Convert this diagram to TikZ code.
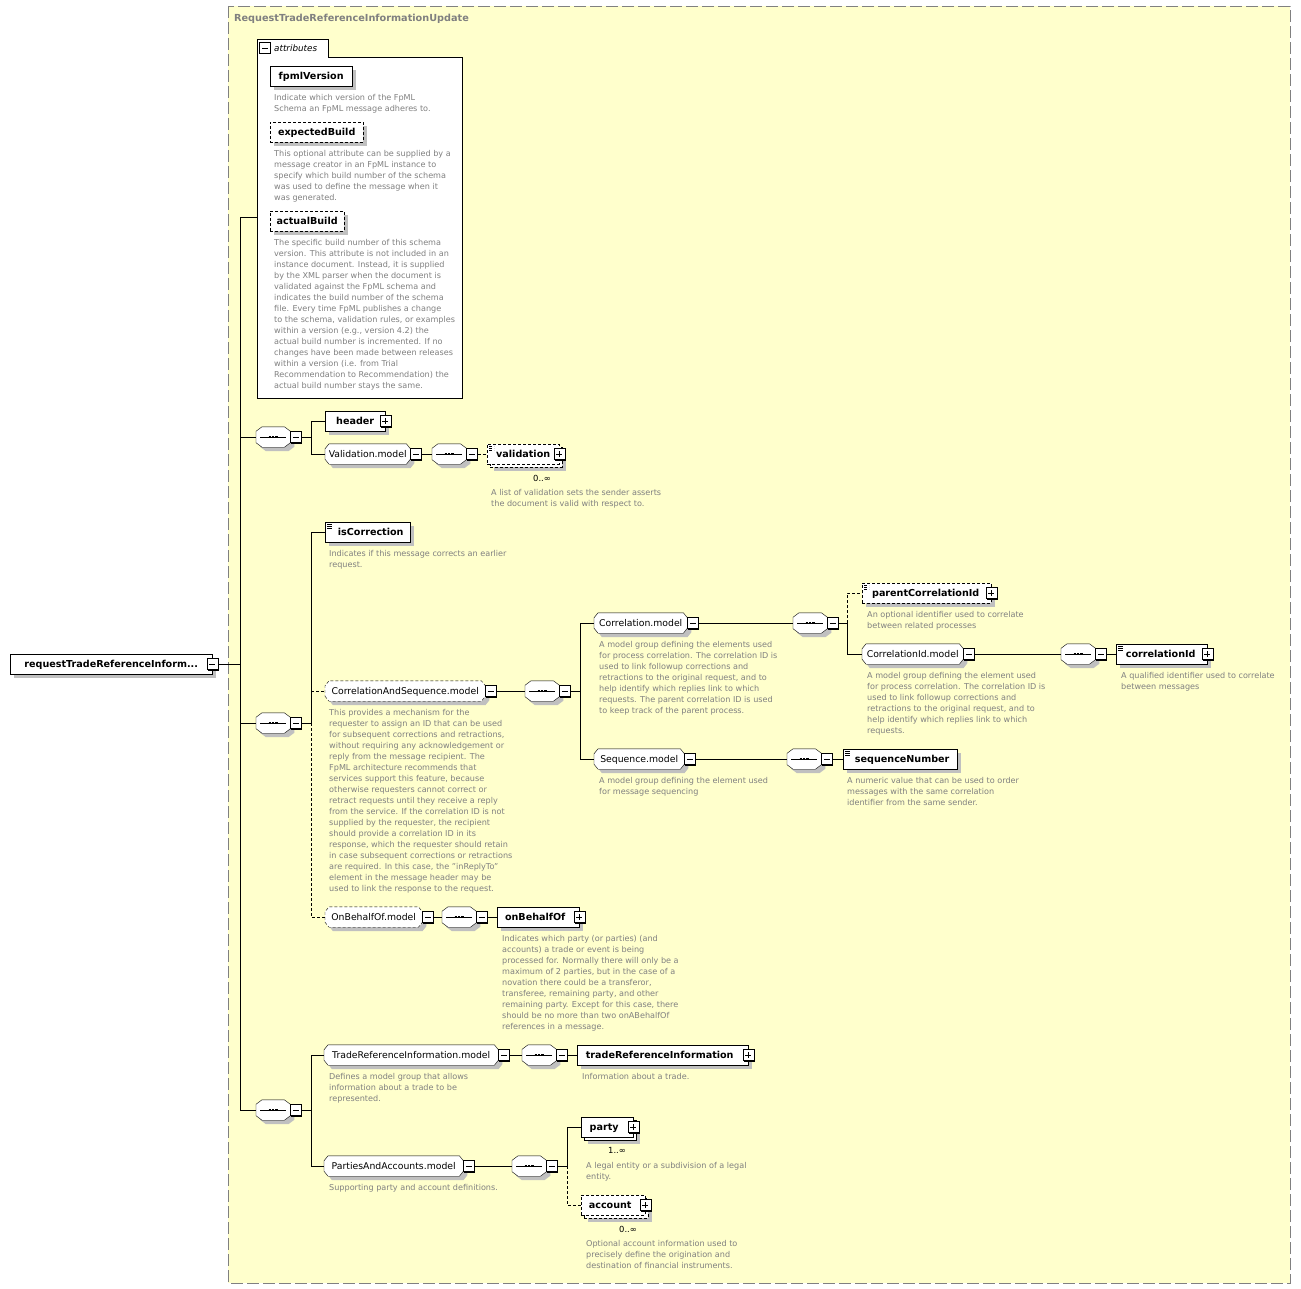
\documentclass[tikz,border=0pt]{standalone}
\usepackage{fontspec}
\setmainfont{DejaVu Sans}
\usetikzlibrary{shadows,
	calc}
\definecolor{bgyellow}{RGB}{255,255,204}
\definecolor{descgray}{RGB}{128,128,128}
\definecolor{framegray}{RGB}{128,128,128}
\definecolor{shadegray}{RGB}{192,192,192}

% octagon used for model groups and compositors
\makeatletter
\pgfkeys{/pgf/octo cx/.initial=4pt,/pgf/octo cy/.initial=5pt}
\pgfdeclareshape{octo}{%
  \inheritsavedanchors[from=rectangle]%
  \inheritanchorborder[from=rectangle]%
  \inheritanchor[from=rectangle]{center}%
  \inheritanchor[from=rectangle]{text}%
  \inheritanchor[from=rectangle]{base}%
  \inheritanchor[from=rectangle]{mid}%
  \inheritanchor[from=rectangle]{north}%
  \inheritanchor[from=rectangle]{south}%
  \inheritanchor[from=rectangle]{east}%
  \inheritanchor[from=rectangle]{west}%
  \inheritanchor[from=rectangle]{north east}%
  \inheritanchor[from=rectangle]{north west}%
  \inheritanchor[from=rectangle]{south east}%
  \inheritanchor[from=rectangle]{south west}%
  \backgroundpath{%
    \pgfmathsetlengthmacro\octcx{\pgfkeysvalueof{/pgf/octo cx}}%
    \pgfmathsetlengthmacro\octcy{\pgfkeysvalueof{/pgf/octo cy}}%
    \southwest \edef\octxa{\the\pgf@x}\edef\octya{\the\pgf@y}%
    \northeast \edef\octxb{\the\pgf@x}\edef\octyb{\the\pgf@y}%
    \pgfpathmoveto{\pgfpoint{\octxa}{\octya+\octcy}}%
    \pgfpathlineto{\pgfpoint{\octxa+\octcx}{\octya}}%
    \pgfpathlineto{\pgfpoint{\octxb-\octcx}{\octya}}%
    \pgfpathlineto{\pgfpoint{\octxb}{\octya+\octcy}}%
    \pgfpathlineto{\pgfpoint{\octxb}{\octyb-\octcy}}%
    \pgfpathlineto{\pgfpoint{\octxb-\octcx}{\octyb}}%
    \pgfpathlineto{\pgfpoint{\octxa+\octcx}{\octyb}}%
    \pgfpathlineto{\pgfpoint{\octxa}{\octyb-\octcy}}%
    \pgfpathclose
  }%
}
\makeatother

\begin{document}
\begin{tikzpicture}[x=1pt,y=-1pt]
    \tikzstyle{desc}=[anchor=north west,align=left,inner sep=0pt,text=descgray,font=\fontsize{8.1}{11}\selectfont]
    \tikzstyle{card}=[inner sep=0pt,font=\fontsize{8.4}{11}\selectfont]
    \tikzstyle{shade}=[drop shadow={shadow xshift=4pt,shadow yshift=-4pt,fill=shadegray,opacity=1}]
    \tikzstyle{opt}=[dash pattern=on 3pt off 2pt]
    \tikzstyle{elembase}=[draw,fill=white,anchor=west,minimum height=20pt,inner sep=0pt,text height=7pt,text depth=0pt,font=\bfseries\fontsize{9.6}{11}\selectfont]
    \tikzstyle{elem}=[elembase,shade]
    \tikzstyle{multi}=[elembase,drop shadow={shadow xshift=7pt,shadow yshift=-7pt,fill=shadegray,opacity=1},copy shadow={shadow xshift=3pt,shadow yshift=-3pt,fill=white,draw=black}]
    \tikzstyle{listed}=[path picture={\foreach \k in {2,4,6} \draw[line width=.6pt] ([xshift=2pt,yshift=-\k pt]path picture bounding box.north west) -- ++(5pt,0);}]
    \tikzstyle{model}=[octo,/pgf/octo cx=4pt,/pgf/octo cy=5pt,draw,fill=white,anchor=west,minimum height=20pt,inner sep=0pt,text height=6.6pt,text depth=0pt,font=\fontsize{9.3}{11}\selectfont,shade]
    \tikzstyle{seq}=[octo,/pgf/octo cx=6pt,/pgf/octo cy=4.5pt,draw,fill=white,anchor=west,minimum width=34pt,minimum height=20pt,inner sep=0pt,shade,
      path picture={\draw ([xshift=4pt]path picture bounding box.west) -- ([xshift=-4pt]path picture bounding box.east);
        \draw[line width=2.4pt,dash pattern=on 2.4pt off 1pt] ([xshift=-4.6pt]path picture bounding box.center) -- ([xshift=4.6pt]path picture bounding box.center);}]
    \tikzstyle{minusbase}=[draw,fill=white,minimum size=11pt,inner sep=0pt,
      path picture={\draw ([xshift=2.5pt]path picture bounding box.west) -- ([xshift=-2.5pt]path picture bounding box.east);}]
    \tikzstyle{minus}=[minusbase,drop shadow={shadow xshift=1pt,shadow yshift=-1pt,fill=black,opacity=1}]
    \tikzstyle{plus}=[draw,fill=white,minimum size=11pt,inner sep=0pt,drop shadow={shadow xshift=1pt,shadow yshift=-1pt,fill=black,opacity=1},
      path picture={\draw ([xshift=2.5pt]path picture bounding box.west) -- ([xshift=-2.5pt]path picture bounding box.east);
        \draw ([yshift=2.5pt]path picture bounding box.south) -- ([yshift=-2.5pt]path picture bounding box.north);}]
    \useasboundingbox (0,0) rectangle (1301,1289);

    % frame of the complex type
    \draw[framegray,dash pattern=on 12pt off 4pt,fill=bgyellow] (228,6) rectangle (1290,1283);
    \node[anchor=west,inner sep=0pt,text=framegray,font=\bfseries\fontsize{9.7}{11}\selectfont] (title) at (234,19) {RequestTradeReferenceInformationUpdate};

    % root element
    \node[elem,minimum width=202] (root) at (10,664) {requestTradeReferenceInform...};
    \node[minus] (root-m) at (root.east) {};

    % attributes
    \draw[fill=white] (257,398) -- (257,39) -- (328,39) -- (328,57) -- (462,57) -- (462,398) -- cycle;
    \node[minusbase] (attr-m) at (265,48) {};
    \node[anchor=west,inner sep=0pt,font=\itshape\fontsize{8.8}{11}\selectfont] (attr-label) at (274,48) {attributes};
    \coordinate (attrs) at (257,217);
    \node[elem,minimum width=82] (fpml) at (270,76) {fpmlVersion};
    \node[desc] (fpml-d) at (274,94.5) {Indicate which version of the FpML\\Schema an FpML message adheres to.};
    \node[elem,opt,minimum width=93] (expb) at (270,132) {expectedBuild};
    \node[desc] (expb-d) at (274,150.5) {This optional attribute can be supplied by a\\message creator in an FpML instance to\\specify which build number of the schema\\was used to define the message when it\\was generated.};
    \node[elem,opt,minimum width=74] (actb) at (270,221) {actualBuild};
    \node[desc] (actb-d) at (274,239.5) {The specific build number of this schema\\version. This attribute is not included in an\\instance document. Instead, it is supplied\\by the XML parser when the document is\\validated against the FpML schema and\\indicates the build number of the schema\\file. Every time FpML publishes a change\\to the schema, validation rules, or examples\\within a version (e.g., version 4.2) the\\actual build number is incremented. If no\\changes have been made between releases\\within a version (i.e. from Trial\\Recommendation to Recommendation) the\\actual build number stays the same.};

    % first sequence
    \node[seq] (sA) at (256,437) {};
    \node[minus] (sA-m) at ([xshift=5.5pt]sA.east) {};
    \node[elem,minimum width=60] (header) at (325,421) {header};
    \node[plus] (header-p) at (header.east) {};
    \node[model,minimum width=85] (valm) at (325,454) {Validation.model};
    \node[minus] (valm-m) at ([xshift=5.5pt]valm.east) {};
    \node[seq] (sV) at (432,454) {};
    \node[minus] (sV-m) at ([xshift=5.5pt]sV.east) {};
    \node[multi,opt,listed,minimum width=72] (validation) at (487,454) {validation};
    \node[plus] (validation-p) at (validation.east) {};
    \node[card] (validation-c) at (542,478) {0..∞};
    \node[desc] (validation-d) at (491,489.5) {A list of validation sets the sender asserts\\the document is valid with respect to.};

    % second sequence
    \node[seq] (sB) at (256,723) {};
    \node[minus] (sB-m) at ([xshift=5.5pt]sB.east) {};
    \node[elem,listed,minimum width=85] (iscorr) at (325,532) {\hspace*{6pt}isCorrection};
    \node[desc] (iscorr-d) at (329,550.5) {Indicates if this message corrects an earlier\\request.};
    \node[model,opt,minimum width=160] (csm) at (325,691) {CorrelationAndSequence.model};
    \node[minus] (csm-m) at ([xshift=5.5pt]csm.east) {};
    \node[desc] (csm-d) at (329,709.5) {This provides a mechanism for the\\requester to assign an ID that can be used\\for subsequent corrections and retractions,\\without requiring any acknowledgement or\\reply from the message recipient. The\\FpML architecture recommends that\\services support this feature, because\\otherwise requesters cannot correct or\\retract requests until they receive a reply\\from the service. If the correlation ID is not\\supplied by the requester, the recipient\\should provide a correlation ID in its\\response, which the requester should retain\\in case subsequent corrections or retractions\\are required. In this case, the "inReplyTo"\\element in the message header may be\\used to link the response to the request.};
    \node[seq] (sCS) at (525,691) {};
    \node[minus] (sCS-m) at ([xshift=5.5pt]sCS.east) {};
    \node[model,minimum width=93] (corrm) at (594,623) {Correlation.model};
    \node[minus] (corrm-m) at ([xshift=5.5pt]corrm.east) {};
    \node[desc] (corrm-d) at (599,641.5) {A model group defining the elements used\\for process correlation. The correlation ID is\\used to link followup corrections and\\retractions to the original request, and to\\help identify which replies link to which\\requests. The parent correlation ID is used\\to keep track of the parent process.};
    \node[seq] (sCorr) at (793,623) {};
    \node[minus] (sCorr-m) at ([xshift=5.5pt]sCorr.east) {};
    \node[elem,opt,listed,minimum width=129] (parent) at (862,593) {\hspace*{6pt}parentCorrelationId\hspace*{8pt}};
    \node[plus] (parent-p) at (parent.east) {};
    \node[desc] (parent-d) at (867,611.5) {An optional identifier used to correlate\\between related processes};
    \node[model,minimum width=101] (cidm) at (862,654) {CorrelationId.model};
    \node[minus] (cidm-m) at ([xshift=5.5pt]cidm.east) {};
    \node[desc] (cidm-d) at (867,672.5) {A model group defining the element used\\for process correlation. The correlation ID is\\used to link followup corrections and\\retractions to the original request, and to\\help identify which replies link to which\\requests.};
    \node[seq] (sCid) at (1061,654) {};
    \node[minus] (sCid-m) at ([xshift=5.5pt]sCid.east) {};
    \node[elem,listed,minimum width=91] (corrid) at (1116,654) {\hspace*{4pt}correlationId\hspace*{6pt}};
    \node[plus] (corrid-p) at (corrid.east) {};
    \node[desc] (corrid-d) at (1121,672.5) {A qualified identifier used to correlate\\between messages};
    \node[model,minimum width=90] (seqm) at (594,759) {Sequence.model};
    \node[minus] (seqm-m) at ([xshift=5.5pt]seqm.east) {};
    \node[desc] (seqm-d) at (599,777.5) {A model group defining the element used\\for message sequencing};
    \node[seq] (sSeq) at (787,759) {};
    \node[minus] (sSeq-m) at ([xshift=5.5pt]sSeq.east) {};
    \node[elem,listed,minimum width=114] (seqnum) at (843,759) {\hspace*{4pt}sequenceNumber};
    \node[desc] (seqnum-d) at (847,777.5) {A numeric value that can be used to order\\messages with the same correlation\\identifier from the same sender.};
    \node[model,opt,minimum width=97] (obom) at (325,917) {OnBehalfOf.model};
    \node[minus] (obom-m) at ([xshift=5.5pt]obom.east) {};
    \node[seq] (sOBO) at (442,917) {};
    \node[minus] (sOBO-m) at ([xshift=5.5pt]sOBO.east) {};
    \node[elem,minimum width=82] (obo) at (497,917) {onBehalfOf\hspace*{6pt}};
    \node[plus] (obo-p) at (obo.east) {};
    \node[desc] (obo-d) at (502,935.5) {Indicates which party (or parties) (and\\accounts) a trade or event is being\\processed for. Normally there will only be a\\maximum of 2 parties, but in the case of a\\novation there could be a transferor,\\transferee, remaining party, and other\\remaining party. Except for this case, there\\should be no more than two onABehalfOf\\references in a message.};

    % third sequence
    \node[seq] (sC) at (256,1110) {};
    \node[minus] (sC-m) at ([xshift=5.5pt]sC.east) {};
    \node[model,minimum width=174] (trim) at (324,1055) {TradeReferenceInformation.model};
    \node[minus] (trim-m) at ([xshift=5.5pt]trim.east) {};
    \node[desc] (trim-d) at (329,1073.5) {Defines a model group that allows\\information about a trade to be\\represented.};
    \node[seq] (sTRI) at (522,1055) {};
    \node[minus] (sTRI-m) at ([xshift=5.5pt]sTRI.east) {};
    \node[elem,minimum width=171] (tri) at (577,1055) {tradeReferenceInformation\hspace*{6pt}};
    \node[plus] (tri-p) at (tri.east) {};
    \node[desc] (tri-d) at (582,1073.5) {Information about a trade.};
    \node[model,minimum width=139] (pam) at (324,1166) {PartiesAndAccounts.model};
    \node[minus] (pam-m) at ([xshift=5.5pt]pam.east) {};
    \node[desc] (pam-d) at (329,1184.5) {Supporting party and account definitions.};
    \node[seq] (sPA) at (512,1166) {};
    \node[minus] (sPA-m) at ([xshift=5.5pt]sPA.east) {};
    \node[multi,minimum width=52] (party) at (581,1127) {party\hspace*{6pt}};
    \node[plus] (party-p) at (party.east) {};
    \node[card] (party-c) at (617,1150) {1..∞};
    \node[desc] (party-d) at (586,1162.5) {A legal entity or a subdivision of a legal\\entity.};
    \node[multi,opt,minimum width=64] (account) at (581,1205) {account\hspace*{6pt}};
    \node[plus] (account-p) at (account.east) {};
    \node[card] (account-c) at (628,1229) {0..∞};
    \node[desc] (account-d) at (586,1240.5) {Optional account information used to\\precisely define the origination and\\destination of financial instruments.};

    % connectors
    \coordinate (trunk) at (240,664);
    \draw (root-m.east) -- (trunk);
    \draw (trunk) |- (attrs);
    \draw (trunk) |- (sA.west);
    \draw (trunk) |- (sB.west);
    \draw (trunk) |- (sC.west);
    \coordinate (jA) at (311,437);
    \draw (sA-m.east) -- (jA) |- (header.west);
    \draw (jA) |- (valm.west);
    \draw (valm-m.east) -- (sV.west);
    \draw[opt] (sV-m.east) -- (validation.west);
    \coordinate (jB) at (311,723);
    \draw (sB-m.east) -- (jB) |- (iscorr.west);
    \draw[opt] (jB |- csm.west) -- (csm.west);
    \draw[opt] (jB) |- (obom.west);
    \draw (csm-m.east) -- (sCS.west);
    \coordinate (jCS) at (580,691);
    \draw (sCS-m.east) -- (jCS) |- (corrm.west);
    \draw (jCS) |- (seqm.west);
    \draw (corrm-m.east) -- (sCorr.west);
    \coordinate (jCorr) at (847,623);
    \draw (sCorr-m.east) -- (jCorr) |- (cidm.west);
    \draw[opt] (jCorr) |- (parent.west);
    \draw (cidm-m.east) -- (sCid.west);
    \draw (sCid-m.east) -- (corrid.west);
    \draw (seqm-m.east) -- (sSeq.west);
    \draw (sSeq-m.east) -- (seqnum.west);
    \draw (obom-m.east) -- (sOBO.west);
    \draw (sOBO-m.east) -- (obo.west);
    \coordinate (jC) at (311,1110);
    \draw (sC-m.east) -- (jC) |- (trim.west);
    \draw (jC) |- (pam.west);
    \draw (trim-m.east) -- (sTRI.west);
    \draw (sTRI-m.east) -- (tri.west);
    \draw (pam-m.east) -- (sPA.west);
    \coordinate (jPA) at (567,1166);
    \draw (sPA-m.east) -- (jPA) |- (party.west);
    \draw[opt] (jPA) |- (account.west);
\end{tikzpicture}
\end{document}
